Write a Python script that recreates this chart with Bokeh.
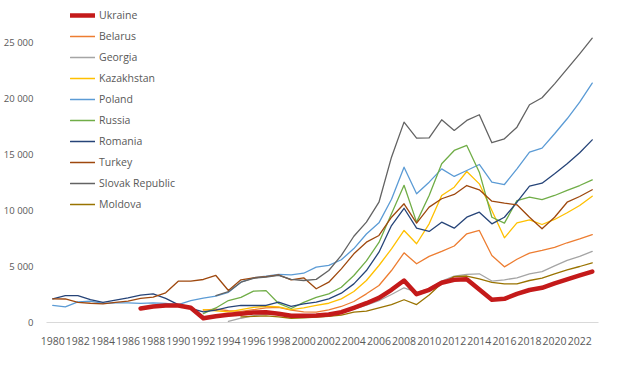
import numpy as np
from bokeh.plotting import figure
from bokeh.models import FixedTicker, Legend, LegendItem
from bokeh.embed import file_html
from bokeh.resources import INLINE

N = None
years = list(range(1980, 2024))

ukraine = [N]*7 + [1250, 1430, 1520, 1520, 1310, 380, 560, 690, 780, 890, 920, 780, 600,
                   600, 625, 710, 920, 1310, 1720, 2200, 2920, 3750, 2530, 2920, 3550, 3820,
                   3870, 2950, 2030, 2110, 2560, 2900, 3100, 3500, 3850, 4200, 4550]
belarus = [N]*12 + [1100, 1200, 1050, 1000, 1150, 1300, 1350, 1100, 950, 920, 1130, 1430,
                    1875, 2560, 3300, 4640, 6220, 5240, 5900, 6350, 6830, 7920, 8220, 5980,
                    4970, 5650, 6200, 6430, 6700, 7120, 7470, 7850]
georgia = [N]*14 + [100, 380, 620, 720, 760, 600, 650, 700, 770, 930, 1200, 1550, 1950,
                    2500, 3100, 2700, 3000, 3700, 4150, 4300, 4350, 3700, 3810, 3990, 4350,
                    4540, 5050, 5540, 5900, 6350]
kazakhstan = [N]*12 + [1150, 1050, 950, 1150, 1350, 1450, 1400, 1150, 1300, 1520, 1720, 2110,
                       2770, 3750, 5090, 6580, 8220, 7030, 8810, 11340, 12080, 13480, 12380,
                       10000, 7560, 8900, 9170, 8750, 9200, 9800, 10450, 11280]
poland = [1520, 1400, 1850, 1900, 1700, 1750, 1750, 1700, 1750, 1700, 1600, 1960, 2170, 2350,
          2700, 3600, 3990, 4130, 4300, 4260, 4400, 4950, 5100, 5600, 6600, 7900, 8900, 11000,
          13870, 11490, 12530, 13720, 13040, 13570, 14110, 12530, 12320, 13720, 15210, 15570,
          16850, 18190, 19670, 21370]
russia = [N]*12 + [800, 1300, 1960, 2250, 2800, 2850, 1700, 1250, 1800, 2250, 2550, 3150, 4200,
                   5500, 7150, 9700, 12250, 8960, 11340, 14170, 15360, 15810, 13420, 9400, 8870,
                   10890, 11190, 10980, 11340, 11790, 12230, 12740]
romania = [2110, 2400, 2400, 2050, 1800, 2000, 2200, 2450, 2550, 2150, 1600, 1250, 950, 1100,
           1370, 1520, 1520, 1520, 1810, 1430, 1670, 1810, 2110, 2620, 3450, 4640, 6280, 8660,
           10200, 8420, 8130, 8960, 8420, 9400, 9850, 8810, 9400, 10740, 12170, 12440, 13280,
           14170, 15150, 16310]
turkey = [2110, 2100, 1800, 1720, 1670, 1800, 1900, 2150, 2260, 2650, 3690, 3690, 3840, 4200,
          2860, 3810, 3990, 4100, 4250, 3800, 3990, 3010, 3600, 4790, 6130, 7170, 7770, 9400,
          10600, 8870, 10300, 11050, 11430, 12230, 11850, 10830, 10650, 10510, 9400, 8370, 9400,
          10740, 11250, 11850]
slovak = [N]*13 + [2400, 2750, 3600, 3950, 4050, 4200, 3850, 3750, 3850, 4640, 6000, 7700, 8960,
                   10740, 14760, 17890, 16460, 16490, 18100, 17150, 18040, 18550, 16050, 16400,
                   17440, 19440, 20070, 21310, 22650, 23990, 25390]
moldova = [N]*15 + [500, 550, 600, 500, 380, 420, 480, 540, 650, 920, 1010, 1310, 1600, 2030,
                    1600, 2450, 3500, 4100, 4150, 3900, 3580, 3450, 3450, 3750, 3960, 4350, 4700,
                    5000, 5330]

series_names = ["Ukraine", "Belarus", "Georgia", "Kazakhstan", "Poland", "Russia", "Romania",
                "Turkey", "Slovak Republic", "Moldova"]
series_values = [ukraine, belarus, georgia, kazakhstan, poland, russia, romania, turkey,
                 slovak, moldova]
colors = ["#C41A1A", "#ED7D31", "#A5A5A5", "#FFC000", "#5B9BD5", "#70AD47", "#264478",
          "#9E480E", "#636363", "#997300"]

x_ticks = list(range(1980, 2023, 2))
y_ticks = [0, 5000, 10000, 15000, 20000, 25000]
y_tick_labels = ["0", "5 000", "10 000", "15 000", "20 000", "25 000"]

p = figure(width=607, height=351, output_backend="svg", toolbar_location=None,
           x_range=(1979.5, 2023.5), y_range=(0, 28036),
           min_border_left=38, min_border_right=9, min_border_top=8, min_border_bottom=29)
p.outline_line_color = None
p.background_fill_color = "white"
p.border_fill_color = "white"
p.xgrid.visible = False
p.ygrid.visible = False

renderers = {}
order = list(range(1, 10)) + [0]
for i in order:
    vals = np.array([np.nan if v is None else v for v in series_values[i]], dtype=float)
    r = p.line(years, vals, line_color=colors[i], line_width=(4.5 if i == 0 else 1.3),
               line_join="round", line_cap="round")
    renderers[i] = r

xa = p.xaxis[0]
xa.ticker = FixedTicker(ticks=x_ticks)
xa.major_tick_line_color = None
xa.minor_tick_line_color = None
xa.axis_line_color = "#D9D9D9"
xa.axis_line_width = 1
xa.major_label_text_font = "Open Sans"
xa.major_label_text_font_size = "10.5px"
xa.major_label_text_color = "#595959"
xa.major_label_standoff = 8

ya = p.yaxis[0]
ya.ticker = FixedTicker(ticks=y_ticks)
ya.major_label_overrides = {t: l for t, l in zip(y_ticks, y_tick_labels)}
ya.major_tick_line_color = None
ya.minor_tick_line_color = None
ya.axis_line_color = None
ya.major_label_text_font = "Open Sans"
ya.major_label_text_font_size = "9.5px"
ya.major_label_text_color = "#595959"
ya.major_label_standoff = 7

items = [LegendItem(label=series_names[i], renderers=[renderers[i]]) for i in range(10)]
legend = Legend(items=items, location=(24, 108), orientation="vertical",
                padding=0, margin=0, spacing=1, label_height=20, glyph_height=20,
                glyph_width=25, label_standoff=4,
                label_text_font="Open Sans", label_text_font_size="10.5px",
                label_text_color="#595959", background_fill_alpha=0,
                border_line_color=None)
p.add_layout(legend, "center")

open("out.html", "w").write(file_html(p, INLINE))
